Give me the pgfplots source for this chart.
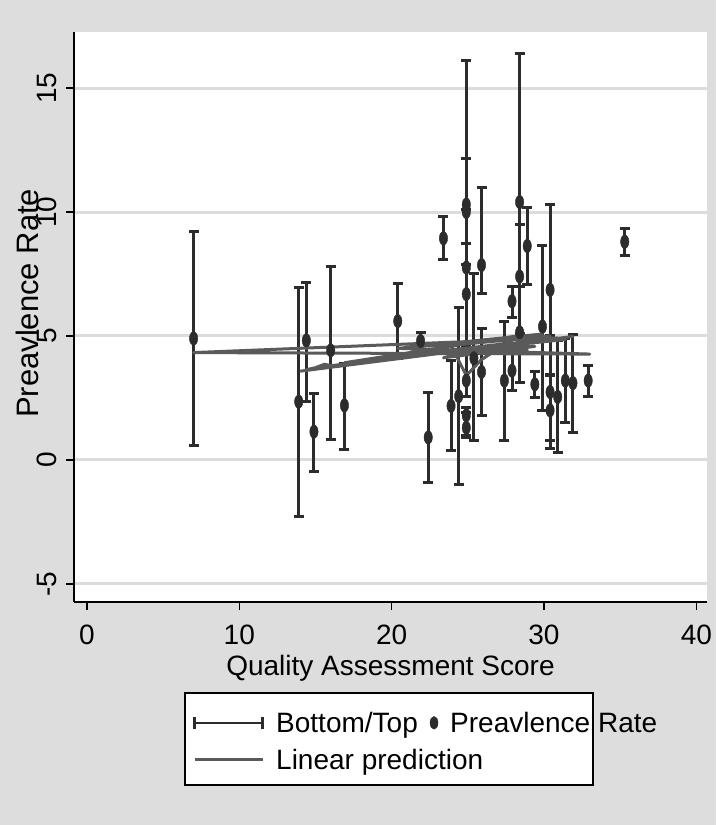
\documentclass[border=0pt]{standalone}
\usepackage{pgfplots}
\pgfplotsset{compat=1.18}
\usepackage{pgfplotstable}
\usepackage{fontspec}
\setmainfont{Liberation Sans}

\definecolor{bggray}{RGB}{221,221,221}
\definecolor{gridgray}{RGB}{220,220,220}
\definecolor{bardark}{RGB}{44,44,44}
\definecolor{fitgray}{RGB}{90,90,90}

% prevalence estimates with lower/upper bounds
\pgfplotstableread{
x    y     lo     hi
7.0  4.90  0.60   9.20
13.9 2.35  -2.30  6.95
14.4 4.82  2.35   7.15
14.9 1.14  -0.47  2.70
16.0 4.42  0.84   7.80
16.9 2.20  0.42   3.90
20.4 5.60  4.10   7.10
21.9 4.80  4.40   5.15
22.4 0.91  -0.91  2.74
23.4 8.94  8.07   9.81
23.9 2.18  0.40   4.00
24.4 2.57  -1.00  6.16
24.9 10.30 4.50   16.13
24.9 10.00 7.90   12.14
24.9 7.76  4.60   10.10
24.9 6.69  4.50   8.73
24.9 3.20  2.54   4.30
24.9 1.80  1.00   2.10
24.9 1.30  0.90   1.90
25.4 4.10  0.80   7.50
25.9 7.86  6.70   11.00
25.9 3.55  1.80   5.30
27.4 3.20  0.80   5.60
27.9 6.40  5.75   7.00
27.9 3.60  2.80   4.60
28.4 10.40 4.40   16.40
28.4 7.40  5.10   9.50
28.4 5.15  3.14   7.00
28.9 8.63  7.07   10.20
29.4 3.05  2.50   3.55
29.9 5.38  2.00   8.66
30.4 6.86  3.45   10.30
30.4 2.74  0.47   5.00
30.4 2.00  0.80   3.40
30.9 2.54  0.30   4.80
31.4 3.20  1.50   4.90
31.9 3.10  1.10   5.07
32.9 3.20  2.55   3.80
35.3 8.80  8.25   9.35
}\ratetable

% linear prediction, in data order (unsorted, as drawn by the original)
\pgfplotstableread{
x    y
14.0 3.58
31.9 4.98
14.4 3.64
15.0 3.72
15.6 3.86
16.0 3.80
30.9 4.92
7.0  4.33
33.0 4.27
20.4 4.50
29.9 5.08
22.4 4.60
30.4 5.00
23.9 4.62
24.9 3.40
25.9 4.05
28.4 5.02
16.9 3.92
31.4 4.86
21.9 4.30
27.9 4.72
23.4 4.12
29.4 4.58
24.9 4.48
28.9 4.44
24.4 4.22
27.4 4.66
}\fittable

\begin{document}
\begin{tikzpicture}
\path[use as bounding box] (0pt,0pt) rectangle (716pt,-825pt);
\fill[bggray] (0pt,0pt) rectangle (716pt,-825pt);
\filldraw[fill=white, draw=black, line width=1.5pt] (185pt,-693pt) rectangle (593pt,-785pt);
\begin{axis}[
    at={(74pt,-602pt)}, anchor=south west,
    scale only axis,
    width=633pt, height=570pt,
    xmin=-0.85, xmax=40.7,
    ymin=-5.73, ymax=17.26,
    axis background/.style={fill=white},
    axis lines=left,
    axis line style={-, line width=1.5pt, black},
    every outer x axis line/.append style={-},
    every outer y axis line/.append style={-},
    xtick={0,10,20,30,40},
    ytick={-5,0,5,10,15},
    minor tick num=0,
    tick align=outside,
    major tick length=8pt,
    tick style={line width=1.5pt, black},
    ymajorgrids,
    grid style={gridgray, line width=3pt},
    /pgf/number format/assume math mode=true,
    tick label style={font=\fontsize{28}{32}\selectfont},
    yticklabel style={rotate=90, anchor=south},
    yticklabel shift=6pt,
    xticklabel style={yshift=-11pt},
    xlabel={Quality Assessment Score},
    every axis x label/.style={at={(rel axis cs:0.5,-0.129)}, anchor=base,
        font=\fontsize{28}{32}\selectfont},
    ylabel={Preavlence Rate},
    every axis y label/.style={at={(rel axis cs:-0.074,0.524)}, rotate=90, anchor=center,
        font=\fontsize{31}{34}\selectfont},
    legend columns=2,
    legend cell align=left,
    legend style={at={(0.188,-0.189)}, anchor=north west, draw=none, fill=none,
        font=\fontsize{28}{32}\selectfont, inner sep=0pt,
        /tikz/column sep=10pt, /tikz/row sep=11pt},
]
\addplot[draw=none, mark=none,
    legend image code/.code={
        \draw[bardark, line width=2.5pt] (0pt,0pt) -- (68pt,0pt);
        \draw[bardark, line width=2.5pt] (0pt,-6pt) -- (0pt,6pt) (68pt,-6pt) -- (68pt,6pt);},
    error bars/.cd, y dir=both, y explicit,
    error bar style={draw=bardark, line width=3pt},
    error mark options={rotate=90, draw=bardark, line width=3pt, mark size=5pt},
    ] table[x=x, y=y,
        y error plus expr=\thisrow{hi}-\thisrow{y},
        y error minus expr=\thisrow{y}-\thisrow{lo}] {\ratetable};
\addlegendentry{Bottom/Top}
\addplot[only marks, mark=*, mark size=4.2pt,
    mark options={yscale=1.6, fill=bardark, draw=none}, color=bardark,
    legend image code/.code={\fill[bardark] (4pt,0pt) ellipse (4pt and 6.4pt);}]
    table[x=x, y=y] {\ratetable};
\addlegendentry{Preavlence Rate}
\addplot[fitgray, line width=3pt, line join=round, mark=none,
    legend image code/.code={\draw[fitgray, line width=3pt] (0pt,0pt) -- (68pt,0pt);}]
    table[x=x, y=y] {\fittable};
\addlegendentry{\makebox[0pt][l]{Linear prediction}}
\end{axis}
\end{tikzpicture}
\end{document}
